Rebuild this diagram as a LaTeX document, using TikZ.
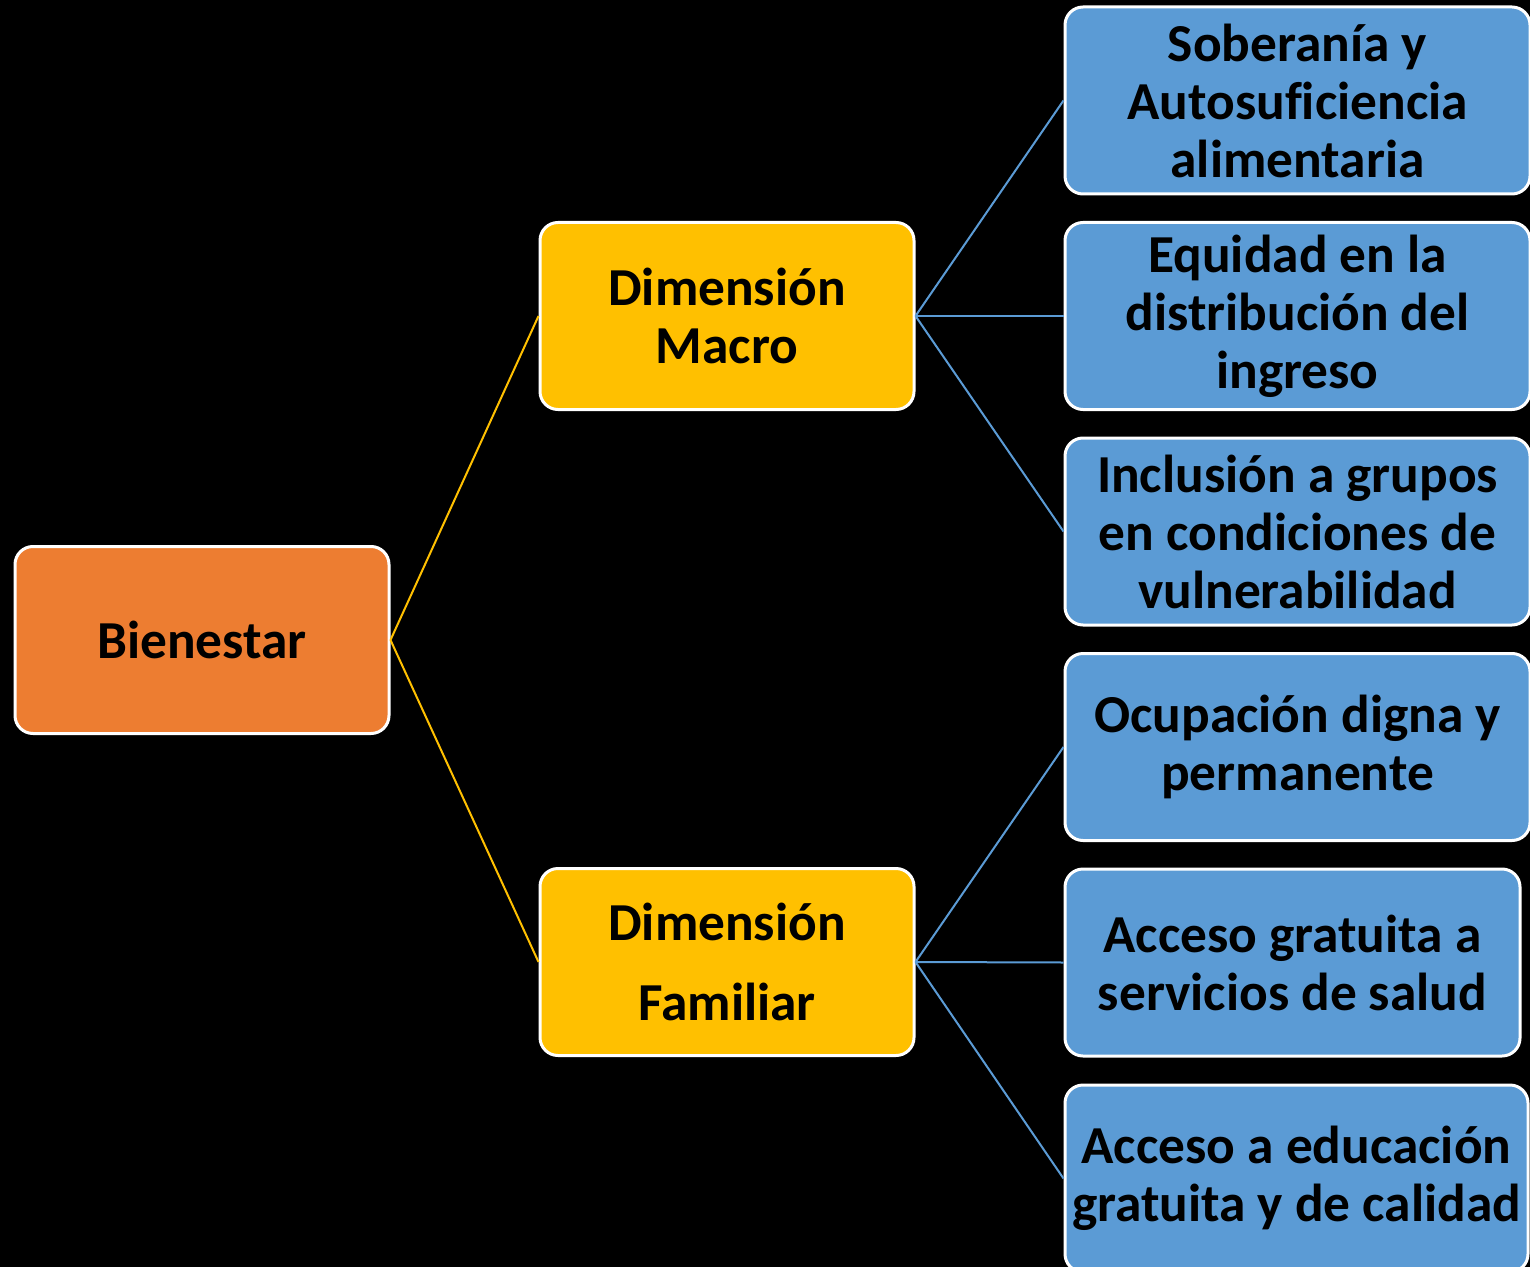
\documentclass[tikz,border=0pt]{standalone}
\usepackage{fontspec}
\setmainfont{Carlito}[Ligatures=CommonOff]
\definecolor{cOrange}{HTML}{ED7D31}
\definecolor{cGold}{HTML}{FFC000}
\definecolor{cBlue}{HTML}{5B9BD5}
\begin{document}
\begin{tikzpicture}[x=0.5pt,y=-0.5pt,
  box/.style={draw=white, line width=1.5pt, rounded corners=9pt, inner sep=0pt,
    align=center, font=\fontsize{26.7}{29}\selectfont\bfseries, text=black},
  lvlA/.style={box, fill=cOrange, minimum width=187pt, minimum height=93.5pt},
  lvlB/.style={box, fill=cGold, minimum width=187pt, minimum height=93.5pt},
  lvlC/.style={box, fill=cBlue, minimum width=232.5pt, minimum height=93.5pt},
  goldline/.style={draw=cGold, line width=1pt},
  blueline/.style={draw=cBlue, line width=1pt}]
\fill[black] (0,0) rectangle (1530,1267);
\useasboundingbox (0,0) rectangle (1530,1267);
\clip (0,0) rectangle (1530,1267);
\node[lvlA] (bien) at (202,640) {Bienestar};
\node[lvlB] (macro) at (727,316) {Dimensión\\Macro};
\node[lvlB, font=\fontsize{26.7}{40}\selectfont\bfseries] (fam) at (727,962) {Dimensión\\Familiar};
\node[lvlC] (c1) at (1297.5,100.5) {Soberanía y\\Autosuficiencia\\alimentaria};
\node[lvlC] (c2) at (1297.5,316) {Equidad en la\\distribución del\\ingreso};
\node[lvlC] (c3) at (1297.5,531.5) {Inclusión a grupos\\en condiciones de\\vulnerabilidad};
\node[lvlC] (c4) at (1297.5,747) {Ocupación digna y\\permanente};
\node[lvlC, minimum width=227.5pt] (c5) at (1292.5,962.5) {Acceso gratuita a\\servicios de salud};
\node[lvlC, minimum width=231.5pt] (c6) at (1296.5,1178.5) {Acceso a educación\\gratuita y de calidad};
\draw[goldline] (bien.east) -- (macro.west);
\draw[goldline] (bien.east) -- (fam.west);
\draw[blueline] (macro.east) -- (c1.west);
\draw[blueline] (macro.east) -- (c2.west);
\draw[blueline] (macro.east) -- (c3.west);
\draw[blueline] (fam.east) -- (c4.west);
\draw[blueline] (fam.east) -- (c5.west);
\draw[blueline] (fam.east) -- (c6.west);
\end{tikzpicture}
\end{document}
